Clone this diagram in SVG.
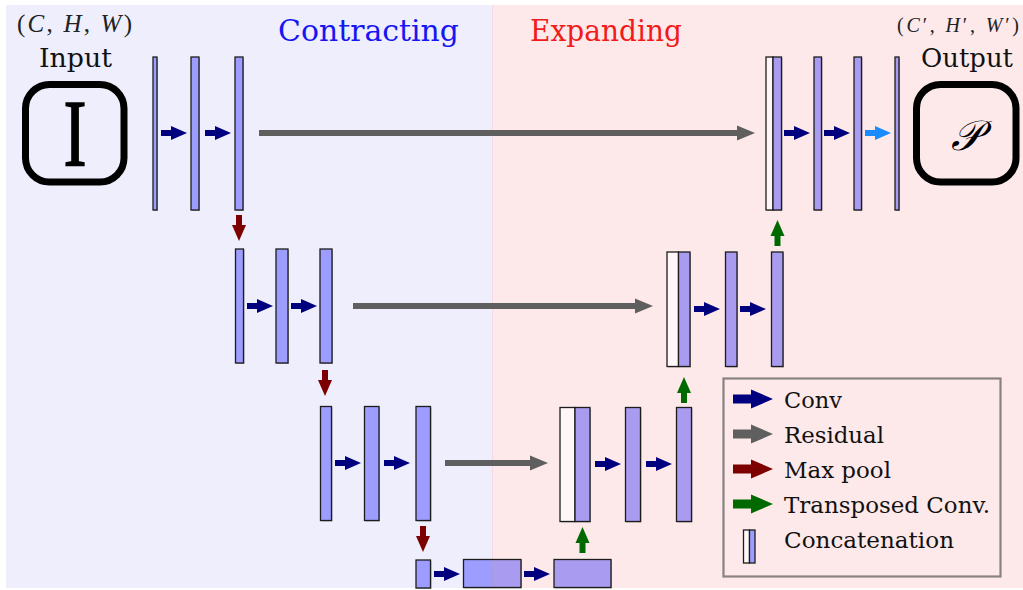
<svg xmlns="http://www.w3.org/2000/svg" xmlns:xlink="http://www.w3.org/1999/xlink" width="1023" height="590" viewBox="0 0 1023 590">
  <style>
    .txt { font-family: "DejaVu Serif", "Liberation Serif", serif; fill: #111; }
    .math { font-family: "Liberation Serif", serif; fill: #222; }
    .blk { fill: #9d9dff; stroke: #1c1c1c; stroke-width: 1.3; }
    .blkR { fill: #a99cf0; stroke: #1c1c1c; stroke-width: 1.3; }
    .cat { fill: #fff7f7; stroke: #1c1c1c; stroke-width: 1.3; }
    .shd { fill: #000; opacity: 0.28; }
    .conv { fill: #00007f; }
    .out { fill: #1a8cff; }
    .pool { fill: #7d0000; }
    .up { fill: #006a00; }
    .res { fill: #5f5f5f; }
    .box { fill: none; stroke: #000; stroke-width: 7; }
  </style>
  <defs>
    <!-- small block arrow, tail at origin, pointing along +x -->
    <path id="arr" d="M0,-3H10V-7L26,0L10,7V3H0Z"/>
    <!-- larger arrow for the legend -->
    <path id="arrL" d="M0,-4.5H18V-9.5L40,0L18,9.5V4.5H0Z"/>
  </defs>

  <!-- background halves -->
  <rect x="6" y="5" width="486.5" height="583" fill="#eeeefc"/>
  <rect x="492.5" y="5" width="530.5" height="583" fill="#fde9ea"/>
  <line x1="492.5" y1="5" x2="492.5" y2="588" stroke="#f3d8e6" stroke-width="1"/>

  <!-- headings -->
  <text class="txt" x="368.5" y="41" font-size="30" style="fill:#1616f2" text-anchor="middle" textLength="181" lengthAdjust="spacingAndGlyphs">Contracting</text>
  <text class="txt" x="606" y="41" font-size="30" style="fill:#f21a1a" text-anchor="middle" textLength="152" lengthAdjust="spacingAndGlyphs">Expanding</text>

  <!-- input -->
  <g id="input">
    <text class="math" x="17" y="32" font-size="25" textLength="115" lengthAdjust="spacing">(<tspan font-style="italic">C</tspan>, <tspan font-style="italic">H</tspan>, <tspan font-style="italic">W</tspan>)</text>
    <text class="txt" x="75.5" y="67" font-size="26" text-anchor="middle" textLength="73" lengthAdjust="spacingAndGlyphs">Input</text>
    <rect class="box" x="25.5" y="84.5" width="98.5" height="97.5" rx="24"/>
    <text class="math" font-size="96" text-anchor="middle" transform="translate(75,166) scale(0.72,1)" style="fill:#000;stroke:#000;stroke-width:1.6">I</text>
  </g>

  <!-- output -->
  <g id="output">
    <text class="math" x="897" y="32" font-size="20" textLength="122" lengthAdjust="spacing">(<tspan font-style="italic">C</tspan>′, <tspan font-style="italic">H</tspan>′, <tspan font-style="italic">W</tspan>′)</text>
    <text class="txt" x="967" y="67" font-size="26" text-anchor="middle" textLength="92" lengthAdjust="spacingAndGlyphs">Output</text>
    <rect class="box" x="916.5" y="84.5" width="99.5" height="97.5" rx="24"/>
    <text class="math" x="966" y="150" font-size="42" font-style="italic" text-anchor="middle" style="fill:#000">𝒫</text>
  </g>

  <!-- encoder level 1 -->
  <g id="enc1">
    <rect class="shd" x="154" y="58" width="4" height="153"/>
    <rect class="blk" x="153" y="57" width="4" height="153"/>
    <rect class="shd" x="192" y="58" width="8" height="153"/>
    <rect class="blk" x="191" y="57" width="8" height="153"/>
    <rect class="shd" x="236" y="58" width="8" height="153"/>
    <rect class="blk" x="235" y="57" width="8" height="153"/>
  </g>
  <!-- encoder level 2 -->
  <g id="enc2">
    <rect class="shd" x="236.5" y="250" width="8" height="114"/>
    <rect class="blk" x="235.5" y="249" width="8" height="114"/>
    <rect class="shd" x="277" y="250" width="12" height="114"/>
    <rect class="blk" x="276" y="249" width="12" height="114"/>
    <rect class="shd" x="321" y="250" width="12" height="114"/>
    <rect class="blk" x="320" y="249" width="12" height="114"/>
  </g>
  <!-- encoder level 3 -->
  <g id="enc3">
    <rect class="shd" x="321.5" y="407.5" width="11" height="114"/>
    <rect class="blk" x="320.5" y="406.5" width="11" height="114"/>
    <rect class="shd" x="365.5" y="407.5" width="14.5" height="114"/>
    <rect class="blk" x="364.5" y="406.5" width="14.5" height="114"/>
    <rect class="shd" x="417" y="407.5" width="14.5" height="114"/>
    <rect class="blk" x="416" y="406.5" width="14.5" height="114"/>
  </g>
  <!-- bottleneck -->
  <g id="bottleneck">
    <rect class="shd" x="417" y="561" width="14.5" height="28"/>
    <rect class="blk" x="416" y="560" width="14.5" height="28"/>
    <rect class="shd" x="464.5" y="560.5" width="57.5" height="28"/>
    <rect x="463.5" y="559.5" width="29" height="28" fill="#9d9dff"/>
    <rect x="492.5" y="559.5" width="28.5" height="28" fill="#a99cf0"/>
    <rect x="463.5" y="559.5" width="57.5" height="28" fill="none" stroke="#1c1c1c" stroke-width="1.3"/>
    <rect class="shd" x="555" y="560.5" width="57" height="28"/>
    <rect class="blkR" x="554" y="559.5" width="57" height="28"/>
  </g>
  <!-- decoder level 3 -->
  <g id="dec3">
    <rect class="shd" x="561" y="408.5" width="30" height="114"/>
    <rect class="cat" x="560" y="407.5" width="15" height="114"/>
    <rect class="blkR" x="575" y="407.5" width="15" height="114"/>
    <rect class="shd" x="626.5" y="408.5" width="15" height="114"/>
    <rect class="blkR" x="625.5" y="407.5" width="15" height="114"/>
    <rect class="shd" x="677.5" y="408.5" width="15" height="114"/>
    <rect class="blkR" x="676.5" y="407.5" width="15" height="114"/>
  </g>
  <!-- decoder level 2 -->
  <g id="dec2">
    <rect class="shd" x="668" y="253" width="23" height="114.5"/>
    <rect class="cat" x="667" y="252" width="11.5" height="114.5"/>
    <rect class="blkR" x="678.5" y="252" width="11.5" height="114.5"/>
    <rect class="shd" x="726.5" y="253" width="11.5" height="114.5"/>
    <rect class="blkR" x="725.5" y="252" width="11.5" height="114.5"/>
    <rect class="shd" x="772.5" y="253" width="11.5" height="114.5"/>
    <rect class="blkR" x="771.5" y="252" width="11.5" height="114.5"/>
  </g>
  <!-- decoder level 1 -->
  <g id="dec1">
    <rect class="shd" x="767" y="58" width="15.5" height="153"/>
    <rect class="cat" x="766" y="57" width="7" height="153"/>
    <rect class="blkR" x="773" y="57" width="8.5" height="153"/>
    <rect class="shd" x="815" y="58" width="7.5" height="153"/>
    <rect class="blkR" x="814" y="57" width="7.5" height="153"/>
    <rect class="shd" x="855" y="58" width="7.5" height="153"/>
    <rect class="blkR" x="854" y="57" width="7.5" height="153"/>
    <rect class="shd" x="896" y="58" width="4" height="153"/>
    <rect class="blkR" x="895" y="57" width="4" height="153"/>
  </g>

  <!-- connectors -->
  <g id="connectors">
    <!-- convolutions -->
    <use xlink:href="#arr" class="conv" x="161" y="133"/>
    <use xlink:href="#arr" class="conv" x="205" y="133"/>
    <use xlink:href="#arr" class="conv" x="247" y="306"/>
    <use xlink:href="#arr" class="conv" x="291" y="306"/>
    <use xlink:href="#arr" class="conv" x="335" y="463"/>
    <use xlink:href="#arr" class="conv" x="384" y="463"/>
    <use xlink:href="#arr" class="conv" x="434" y="574"/>
    <use xlink:href="#arr" class="conv" x="524" y="574"/>
    <use xlink:href="#arr" class="conv" x="595" y="464"/>
    <use xlink:href="#arr" class="conv" x="646" y="464"/>
    <use xlink:href="#arr" class="conv" x="694" y="309"/>
    <use xlink:href="#arr" class="conv" x="740" y="309"/>
    <use xlink:href="#arr" class="conv" x="784" y="133"/>
    <use xlink:href="#arr" class="conv" x="824" y="133"/>
    <use xlink:href="#arr" class="out" x="865" y="133"/>
    <!-- max pooling -->
    <use xlink:href="#arr" class="pool" transform="translate(239,215) rotate(90)"/>
    <use xlink:href="#arr" class="pool" transform="translate(325,370) rotate(90)"/>
    <use xlink:href="#arr" class="pool" transform="translate(423,526) rotate(90)"/>
    <!-- transposed convolutions -->
    <use xlink:href="#arr" class="up" transform="translate(582.5,553) rotate(-90)"/>
    <use xlink:href="#arr" class="up" transform="translate(684,403) rotate(-90)"/>
    <use xlink:href="#arr" class="up" transform="translate(777.5,246) rotate(-90)"/>
    <!-- skip connections -->
    <path class="res" d="M259,130H737V125.5L755,133L737,140.5V136H259Z"/>
    <path class="res" d="M353,303H635V298.5L653,306L635,313.5V309H353Z"/>
    <path class="res" d="M445,460H530V455.5L548,463L530,470.5V466H445Z"/>
  </g>

  <!-- legend -->
  <g id="legend">
    <rect x="723.5" y="378.5" width="277" height="198" fill="none" stroke="#8a8282" stroke-width="2.2"/>
    <use xlink:href="#arrL" class="conv" x="733" y="399"/>
    <use xlink:href="#arrL" class="res" x="733" y="434"/>
    <use xlink:href="#arrL" class="pool" x="733" y="469"/>
    <use xlink:href="#arrL" class="up" x="733" y="504"/>
    <rect class="cat" x="743.5" y="530" width="6" height="33"/>
    <rect class="blk" x="749.5" y="530" width="5.5" height="33"/>
    <text class="txt" x="784" y="408" font-size="23" textLength="58" lengthAdjust="spacingAndGlyphs">Conv</text>
    <text class="txt" x="784" y="443" font-size="23" textLength="100" lengthAdjust="spacingAndGlyphs">Residual</text>
    <text class="txt" x="784" y="478" font-size="23" textLength="107" lengthAdjust="spacingAndGlyphs">Max pool</text>
    <text class="txt" x="784" y="513" font-size="23" textLength="206" lengthAdjust="spacingAndGlyphs">Transposed Conv.</text>
    <text class="txt" x="784" y="548" font-size="23" textLength="170" lengthAdjust="spacingAndGlyphs">Concatenation</text>
  </g>
</svg>
